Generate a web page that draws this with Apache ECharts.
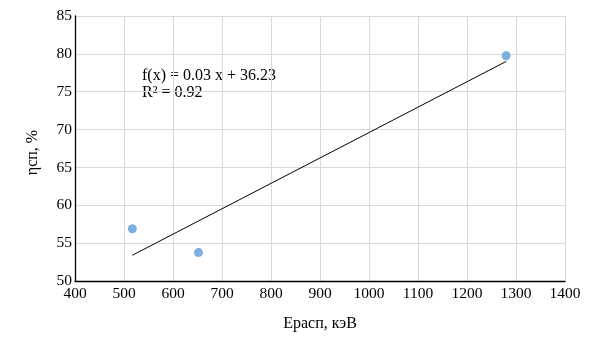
<!DOCTYPE html>
<html><head><meta charset="utf-8">
<script src="https://cdn.jsdelivr.net/npm/echarts@6/dist/echarts.min.js"></script>
<style>html,body{margin:0;padding:0;background:#fff}#c{width:593px;height:351px}</style>
</head><body><div id="c"></div>
<script>
var pointsX = [517, 652, 1280];
var pointsY = [56.9, 53.75, 79.75];
var trendX = [517, 1280];
var trendY = [53.4, 79.0];
var equationLines = ['f(x) = 0.03 x + 36.23', 'R² = 0.92'];
var xName = 'Eрасп, кэВ';
var yName = 'ηсп, %';

var font = '"Liberation Serif", "DejaVu Serif", serif';
var chart = echarts.init(document.getElementById('c'), null, {renderer: 'canvas'});
chart.setOption({
  animation: false,
  backgroundColor: '#fff',
  grid: {left: 75, right: 28, top: 16, bottom: 70},
  xAxis: {
    type: 'value', min: 400, max: 1400, interval: 100,
    name: xName, nameLocation: 'middle', nameGap: 35,
    nameTextStyle: {fontFamily: font, fontSize: 16, color: '#000'},
    axisLine: {show: true, lineStyle: {color: '#000', width: 1.3}},
    axisTick: {show: false},
    axisLabel: {fontFamily: font, fontSize: 15.5, color: '#000', margin: 5,
      formatter: function (v) { return String(v); }},
    splitLine: {show: true, lineStyle: {color: '#d9d9d9', width: 1}}
  },
  yAxis: {
    type: 'value', min: 50, max: 85, interval: 5,
    name: yName, nameLocation: 'middle', nameGap: 34,
    nameTextStyle: {fontFamily: font, fontSize: 16, color: '#000', padding: [0, 8, 0, 0]},
    axisLine: {show: true, lineStyle: {color: '#000', width: 1.3}},
    axisTick: {show: false},
    axisLabel: {fontFamily: font, fontSize: 15.5, color: '#000', margin: 3,
      formatter: function (v) { return String(v); }},
    splitLine: {show: true, lineStyle: {color: '#d9d9d9', width: 1}}
  },
  series: [
    {
      type: 'line',
      data: trendX.map(function (x, i) { return [x, trendY[i]]; }),
      showSymbol: false, symbol: 'none',
      lineStyle: {color: '#000', width: 1},
      z: 2
    },
    {
      type: 'scatter',
      data: pointsX.map(function (x, i) { return [x, pointsY[i]]; }),
      symbol: 'circle', symbolSize: 9,
      itemStyle: {color: '#5b9bd5'},
      z: 3
    }
  ],
  graphic: [{
    type: 'text', left: 142, top: 67,
    style: {text: equationLines.join('\n'), font: '16px ' + font, fill: '#000', lineHeight: 17}
  }]
});
</script></body></html>
